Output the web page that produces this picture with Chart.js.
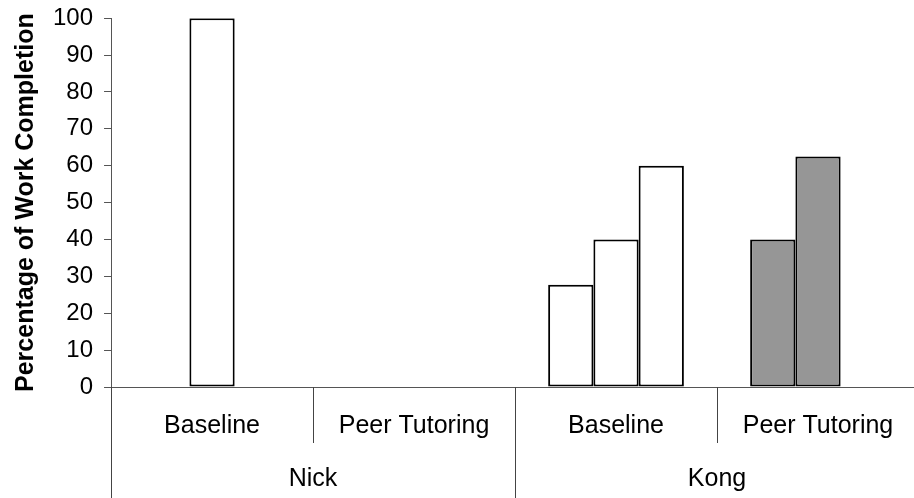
<!DOCTYPE html>
<html>
<head>
<meta charset="utf-8">
<script src="https://cdn.jsdelivr.net/npm/chart.js@4/dist/chart.umd.min.js"></script>
<style>
  html, body { margin: 0; padding: 0; background: #fff; }
  #wrap { width: 914px; height: 498px; }
</style>
</head>
<body>
<div id="wrap"><canvas id="chart"></canvas></div>
<script>
const phases = ['Baseline', 'Peer Tutoring', 'Baseline', 'Peer Tutoring'];
const students = ['Nick', 'Kong'];
const session1 = [null, null, 27.7, 40];
const session2 = [100, null, 40, 62.5];
const session3 = [null, null, 60, null];
const phaseFill = ['#ffffff', '#969696', '#ffffff', '#969696'];
const yTicks = [0, 10, 20, 30, 40, 50, 60, 70, 80, 90, 100];

Chart.defaults.font.family = "'Liberation Sans', Arial, sans-serif";
Chart.defaults.color = '#000';

const barStyle = {
  backgroundColor: ctx => phaseFill[ctx.dataIndex],
  borderColor: '#000',
  borderWidth: 2,
  borderSkipped: false,
  categoryPercentage: 0.672,
  barPercentage: 1
};

// the original plot runs a few px past the right edge of the image
const overhang = 5;
const widenPlot = {
  id: 'widenPlot',
  afterLayout(chart) {
    chart.chartArea.right += overhang;
    chart.chartArea.width += overhang;
    ['x', 'x2'].forEach(id => {
      const s = chart.scales[id];
      s.right += overhang;
      s.width += overhang;
      s.configure();
    });
  }
};

// vertical separators between phases (short) and between students (long)
const separators = {
  id: 'separators',
  afterDraw(chart) {
    const x = chart.scales.x;
    const ctx = chart.ctx;
    const step = x.getPixelForValue(1) - x.getPixelForValue(0);
    ctx.save();
    ctx.strokeStyle = '#444';
    ctx.lineWidth = 1;
    for (let i = 0; i < phases.length; i++) {
      const px = Math.round(x.getPixelForValue(i) - step / 2) + 0.5;
      const bottom = i % 2 === 0 ? chart.height : x.top + 56;
      ctx.beginPath();
      ctx.moveTo(px, x.top);
      ctx.lineTo(px, bottom);
      ctx.stroke();
    }
    ctx.restore();
  }
};

new Chart(document.getElementById('chart'), {
  type: 'bar',
  data: {
    labels: phases,
    datasets: [
      { label: 'Session 1', data: session1, ...barStyle },
      { label: 'Session 2', data: session2, ...barStyle },
      { label: 'Session 3', data: session3, ...barStyle }
    ]
  },
  plugins: [widenPlot, separators],
  options: {
    responsive: true,
    maintainAspectRatio: false,
    animation: false,
    layout: { padding: 0 },
    plugins: { legend: { display: false }, tooltip: { enabled: false } },
    scales: {
      x: {
        position: 'bottom',
        offset: true,
        border: { display: true, color: '#555', width: 1 },
        grid: { display: false, drawTicks: false },
        ticks: { font: { size: 25 }, padding: 24, maxRotation: 0, autoSkip: false },
        afterFit: axis => { axis.height = 52; }
      },
      x2: {
        type: 'category',
        position: 'bottom',
        labels: students,
        offset: true,
        border: { display: false },
        grid: { display: false, drawTicks: false },
        ticks: { font: { size: 25 }, padding: 25, maxRotation: 0, autoSkip: false },
        afterFit: axis => { axis.height = 59; }
      },
      y: {
        min: 0,
        max: 100,
        afterBuildTicks: axis => { axis.ticks = yTicks.map(v => ({ value: v })); },
        border: { display: true, color: '#555', width: 1 },
        grid: { drawOnChartArea: false, tickLength: 7, color: '#555' },
        ticks: { font: { size: 24, lineHeight: 0.6 }, padding: 11, autoSkip: false },
        title: {
          display: true,
          text: 'Percentage of Work Completion',
          font: { size: 25, weight: 'bold' },
          padding: { top: 11, bottom: 1 }
        }
      }
    }
  }
});
</script>
</body>
</html>
